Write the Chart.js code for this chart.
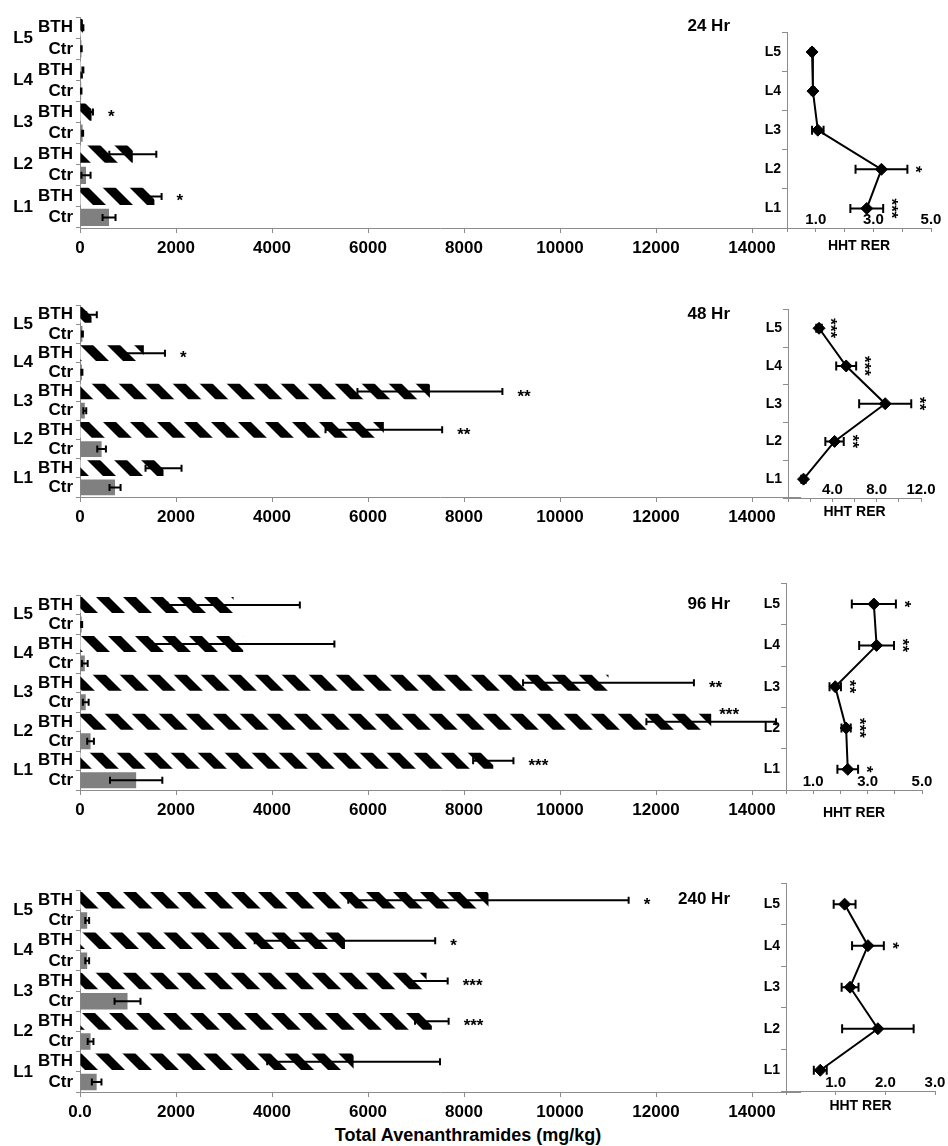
<!DOCTYPE html>
<html><head><meta charset="utf-8">
<script src="https://cdn.jsdelivr.net/npm/chart.js@4.4.1/dist/chart.umd.min.js"></script>
<style>
html,body{margin:0;padding:0;background:#fff;}
#page{position:relative;width:948px;height:1146px;overflow:hidden;background:#fff;}
#page canvas{position:absolute;}
#xtitle{position:absolute;left:0;width:936px;top:1125px;text-align:center;font:bold 18px "Liberation Sans",Arial,sans-serif;color:#000;}
</style></head>
<body><div id="page"><div id="xtitle">Total Avenanthramides (mg/kg)</div></div>
<script>
// ---------- DATA (levels listed L1..L5) ----------
const levels = ['L1','L2','L3','L4','L5'];
const treatments = ['BTH','Ctr'];
const hours = ['24 Hr','48 Hr','96 Hr','240 Hr'];
const barTickValues = [0, 2000, 4000, 6000, 8000, 10000, 12000, 14000];
const barTickLabels = ['0','2000','4000','6000','8000','10000','12000','14000'];
const barTickLabels240 = ['0.0','2000','4000','6000','8000','10000','12000','14000'];

// 24 Hr
const bth24 = [1550, 1100, 240, 60, 60];
const bth24Err = [150, 490, 30, 10, 10];
const ctr24 = [605, 125, 55, 25, 30];
const ctr24Err = [135, 95, 10, 5, 5];
const bth24Stars = ['*', '', '*', '', ''];
const rer24 = [2.77, 3.28, 1.07, 0.9, 0.87];
const rer24Err = [0.57, 0.9, 0.2, 0.05, 0.05];
const rer24Stars = ['***', '*', '', '', ''];
const rer24Labeled = [1, 3, 5];

// 48 Hr
const bth48 = [1740, 6330, 7290, 1330, 240];
const bth48Err = [375, 1215, 1510, 440, 110];
const ctr48 = [730, 450, 100, 40, 50];
const ctr48Err = [115, 90, 30, 10, 10];
const bth48Stars = ['', '**', '**', '*', ''];
const rer48 = [1.4, 4.2, 8.77, 5.25, 2.8];
const rer48Err = [0.2, 0.83, 2.35, 0.9, 0.25];
const rer48Stars = ['', '**', '**', '***', '***'];
const rer48Labeled = [4, 8, 12];

// 96 Hr
const bth96 = [8610, 13150, 11010, 3400, 3200];
const bth96Err = [420, 1350, 1780, 1900, 1380];
const ctr96 = [1170, 220, 120, 100, 35];
const ctr96Err = [545, 70, 60, 60, 10];
const bth96Stars = ['***', '***', '**', '', ''];
const rer96 = [2.27, 2.21, 1.81, 3.33, 3.23];
const rer96Err = [0.38, 0.17, 0.21, 0.64, 0.81];
const rer96Stars = ['*', '***', '**', '**', '*'];
const rer96Labeled = [1, 3, 5];

// 240 Hr
const bth240 = [5700, 7330, 7220, 5520, 8510];
const bth240Err = [1800, 350, 440, 1880, 2920];
const ctr240 = [347, 220, 990, 150, 150];
const ctr240Err = [100, 60, 270, 40, 40];
const bth240Stars = ['', '***', '***', '*', '*'];
const rer240 = [0.69, 1.85, 1.29, 1.65, 1.18];
const rer240Err = [0.13, 0.72, 0.17, 0.32, 0.22];
const rer240Stars = ['', '', '', '*', ''];
const rer240Labeled = [1, 2, 3];

// ---------- LAYOUT / STYLE ----------
const FONT = '"Liberation Sans", Arial, Helvetica, sans-serif';
const AXIS = '#8c8c8c';
const CTR_GRAY = '#808080';
Chart.defaults.font.family = FONT;
Chart.defaults.font.weight = 'bold';
Chart.defaults.color = '#000';

const panels = [
  {hour: hours[0], bth: bth24, bthErr: bth24Err, ctr: ctr24, ctrErr: ctr24Err, bthStars: bth24Stars, ticks: barTickLabels,
   rer: rer24, rerErr: rer24Err, rerStars: rer24Stars, rerLabeled: rer24Labeled, rerMax: 5, rerStep: 1,
   bar: {top: 9, bottom: 228}, r: {top: 28, bottom: 228, left: 787, right: 931, titleOff: 19}},
  {hour: hours[1], bth: bth48, bthErr: bth48Err, ctr: ctr48, ctrErr: ctr48Err, bthStars: bth48Stars, ticks: barTickLabels,
   rer: rer48, rerErr: rer48Err, rerStars: rer48Stars, rerLabeled: rer48Labeled, rerMax: 12, rerStep: 2,
   bar: {top: 297, bottom: 497}, r: {top: 305, bottom: 498, left: 788, right: 921, titleOff: 15}},
  {hour: hours[2], bth: bth96, bthErr: bth96Err, ctr: ctr96, ctrErr: ctr96Err, bthStars: bth96Stars, ticks: barTickLabels,
   rer: rer96, rerErr: rer96Err, rerStars: rer96Stars, rerLabeled: rer96Labeled, rerMax: 5, rerStep: 1,
   bar: {top: 587, bottom: 790}, r: {top: 579, bottom: 790, left: 786, right: 922, titleOff: 24}},
  {hour: hours[3], bth: bth240, bthErr: bth240Err, ctr: ctr240, ctrErr: ctr240Err, bthStars: bth240Stars, ticks: barTickLabels240,
   rer: rer240, rerErr: rer240Err, rerStars: rer240Stars, rerLabeled: rer240Labeled, rerMax: 3, rerStep: 1,
   bar: {top: 882, bottom: 1092}, r: {top: 879, bottom: 1091, left: 786, right: 935, titleOff: 16}}
];

// ---------- PATTERN ----------
function makeStripes() {
  const P = 27, W = 13;
  const c = document.createElement('canvas'); c.width = P; c.height = P;
  const g = c.getContext('2d');
  g.fillStyle = '#fff'; g.fillRect(0, 0, P, P);
  g.fillStyle = '#000';
  for (let k = -2; k <= 1; k++) {
    g.beginPath();
    g.moveTo(k * P, 0); g.lineTo(k * P + W, 0);
    g.lineTo(k * P + W + P, P); g.lineTo(k * P + P, P);
    g.closePath(); g.fill();
  }
  return g.createPattern(c, 'repeat');
}
const stripes = makeStripes();

// ---------- PLUGINS ----------
function drawErrorBars(chart, opts) {
  const ctx = chart.ctx, xs = chart.scales.x;
  chart.data.datasets.forEach((ds, di) => {
    if (!ds.errors) return;
    const meta = chart.getDatasetMeta(di);
    meta.data.forEach((el, i) => {
      const v = ds.data[i], e = ds.errors[i];
      if (v == null || e == null) return;
      const x1 = xs.getPixelForValue(v - e), x2 = xs.getPixelForValue(v + e), y = el.y, h = opts.cap / 2;
      ctx.save();
      ctx.strokeStyle = '#000'; ctx.lineWidth = opts.lineWidth;
      ctx.beginPath();
      ctx.moveTo(x1, y); ctx.lineTo(x2, y);
      ctx.moveTo(x1, y - h); ctx.lineTo(x1, y + h);
      ctx.moveTo(x2, y - h); ctx.lineTo(x2, y + h);
      ctx.stroke();
      ctx.restore();
    });
  });
}
const errorBarPlugin = {
  id: 'errorBars',
  beforeDatasetsDraw(chart, args, opts) { if (opts.layer === 'before') drawErrorBars(chart, opts); },
  afterDatasetsDraw(chart, args, opts) { if (opts.layer !== 'before') drawErrorBars(chart, opts); }
};
const starPlugin = {
  id: 'stars',
  afterDatasetsDraw(chart, args, opts) {
    const ctx = chart.ctx, xs = chart.scales.x, area = chart.chartArea;
    chart.data.datasets.forEach((ds, di) => {
      if (!ds.stars) return;
      const meta = chart.getDatasetMeta(di);
      meta.data.forEach((el, i) => {
        const s = ds.stars[i];
        if (!s) return;
        const v = ds.data[i], e = ds.errors ? ds.errors[i] : 0;
        const xEnd = xs.getPixelForValue(v + e);
        ctx.save();
        ctx.fillStyle = '#000';
        ctx.font = 'bold 17px ' + FONT;
        if (opts.vertical) {
          ctx.translate(xEnd + opts.gap, el.y);
          ctx.rotate(Math.PI / 2);
          ctx.textAlign = 'center'; ctx.textBaseline = 'alphabetic';
          ctx.fillText(s, 0, 10);
        } else {
          const w = ctx.measureText(s).width;
          let x = xEnd + opts.gap, y = el.y;
          if (x + w > area.right - 12) { x = xs.getPixelForValue(v) + 8; y -= 12; }
          ctx.textAlign = 'left'; ctx.textBaseline = 'alphabetic';
          ctx.fillText(s, x, y + 10);
        }
        ctx.restore();
      });
    });
  }
};
const panelTitlePlugin = {
  id: 'panelTitle',
  afterDraw(chart, args, opts) {
    if (!opts.text) return;
    const ctx = chart.ctx, a = chart.chartArea;
    ctx.save();
    ctx.fillStyle = '#000'; ctx.font = 'bold 17px ' + FONT;
    ctx.textAlign = 'right'; ctx.textBaseline = 'middle';
    ctx.fillText(opts.text, a.right - 70, a.top + 9);
    ctx.restore();
  }
};

// ---------- BUILD ----------
const page = document.getElementById('page');
function addCanvas(left, top, w, h) {
  const c = document.createElement('canvas');
  c.width = w; c.height = h;
  c.style.left = left + 'px'; c.style.top = top + 'px';
  c.style.width = w + 'px'; c.style.height = h + 'px';
  page.appendChild(c);
  return c;
}
const rev = a => a.slice().reverse();

panels.forEach(p => {
  // bar chart
  const labels = [], data = [], errs = [], colors = [], stars = [];
  for (let i = levels.length - 1; i >= 0; i--) {
    labels.push(treatments[0]); data.push(p.bth[i]); errs.push(p.bthErr[i]); colors.push(stripes); stars.push(p.bthStars[i]);
    labels.push(treatments[1]); data.push(p.ctr[i]); errs.push(p.ctrErr[i]); colors.push(CTR_GRAY); stars.push('');
  }
  const padT = 5, xH = 31, padB = 3;
  const bc = addCanvas(0, p.bar.top - padT, 810, padT + (p.bar.bottom - p.bar.top) + xH + padB);
  new Chart(bc, {
    type: 'bar',
    data: {labels, datasets: [{data, errors: errs, stars, backgroundColor: colors, borderWidth: 0, barPercentage: 0.82, categoryPercentage: 1}]},
    options: {
      indexAxis: 'y', responsive: false, animation: false, devicePixelRatio: 1,
      layout: {padding: {top: padT, right: 10, bottom: padB, left: 0}},
      plugins: {legend: {display: false}, tooltip: {enabled: false},
        errorBars: {lineWidth: 2, cap: 7}, stars: {gap: 15}, panelTitle: {text: p.hour}},
      scales: {
        x: {type: 'linear', min: 0, max: 15000,
          afterBuildTicks: axis => { axis.ticks = barTickValues.map(v => ({value: v})); },
          ticks: {padding: 5, maxRotation: 0, autoSkip: false,
            font: {size: 17, weight: 'bold'}, color: '#000',
            callback: v => p.ticks[barTickValues.indexOf(v)]},
          grid: {drawOnChartArea: false, tickLength: 5, color: AXIS},
          border: {color: AXIS},
          afterFit: s => { s.height = xH; }},
        y: {type: 'category', offset: true,
          grid: {offset: true, drawOnChartArea: false, tickLength: 4, color: AXIS},
          border: {color: AXIS},
          ticks: {padding: 3, autoSkip: false, font: {size: 17, weight: 'bold'}, color: '#000'},
          afterFit: s => { s.width = 45; }},
        yLevel: {type: 'category', axis: 'y', position: 'left', labels: rev(levels), offset: true, weight: 1,
          grid: {display: false, drawTicks: false}, border: {display: false},
          ticks: {padding: 2, autoSkip: false, font: {size: 17, weight: 'bold'}, color: '#000'},
          afterFit: s => { s.width = 35; }}
      }
    },
    plugins: [errorBarPlugin, starPlugin, panelTitlePlugin]
  });

  // RER line chart
  const r = p.r;
  const H = Math.round(r.titleOff + 8);
  const left = r.left - 30;
  const rc = addCanvas(left, r.top - 5, 948 - left, 5 + (r.bottom - r.top) + H + 2);
  new Chart(rc, {
    type: 'line',
    data: {labels: rev(levels), datasets: [{
      data: rev(p.rer), errors: rev(p.rerErr), stars: rev(p.rerStars),
      borderColor: '#000', borderWidth: 2, tension: 0, fill: false,
      pointStyle: 'rectRot', pointRadius: 6, pointBackgroundColor: '#000', pointBorderColor: '#000', pointBorderWidth: 1}]},
    options: {
      indexAxis: 'y', responsive: false, animation: false, devicePixelRatio: 1,
      layout: {padding: {top: 5, right: 948 - r.right, bottom: 2, left: 0}},
      plugins: {legend: {display: false}, tooltip: {enabled: false},
        errorBars: {layer: 'before', lineWidth: 2, cap: 9}, stars: {gap: 13, vertical: true}},
      scales: {
        x: {type: 'linear', min: 0, max: p.rerMax,
          ticks: {stepSize: p.rerStep, mirror: true, padding: -1, maxRotation: 0, autoSkip: false,
            font: {size: 15, weight: 'bold'}, color: '#000',
            callback: v => p.rerLabeled.includes(v) ? v.toFixed(1) : ''},
          grid: {drawOnChartArea: false, tickLength: 4, color: AXIS},
          border: {color: AXIS},
          title: {display: true, text: 'HHT RER', font: {size: 14, weight: 'bold'}, color: '#000', padding: {top: 0, bottom: 0}},
          afterFit: s => { s.height = H; }},
        y: {type: 'category', offset: true,
          grid: {offset: true, drawOnChartArea: false, tickLength: 5, color: AXIS},
          border: {color: AXIS},
          ticks: {padding: 1, autoSkip: false, font: {size: 14, weight: 'bold'}, color: '#000'},
          afterFit: s => { s.width = 30; }}
      }
    },
    plugins: [errorBarPlugin, starPlugin]
  });
});
</script>
</body></html>
